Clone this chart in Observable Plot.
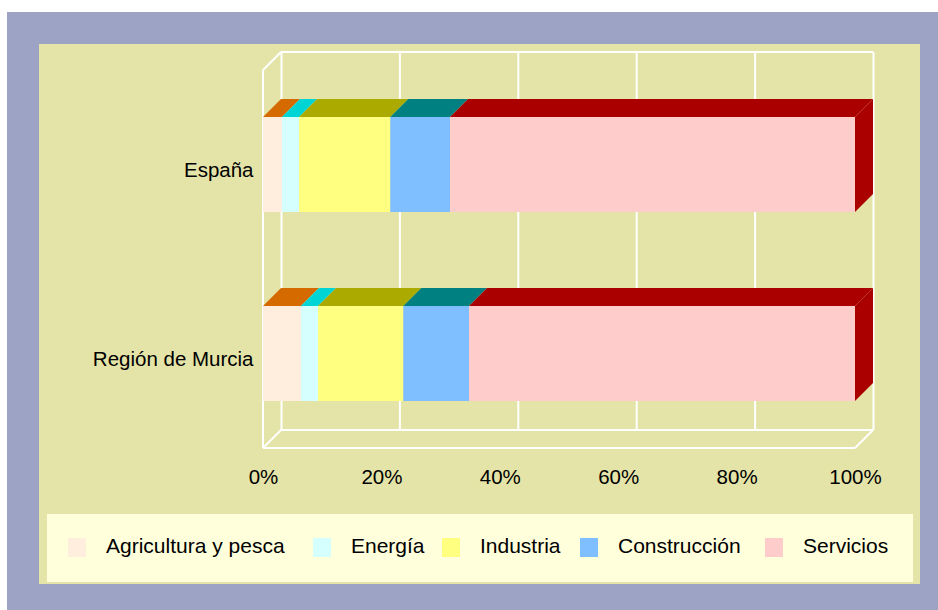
<!DOCTYPE html>
<html><head><meta charset="utf-8">
<script src="https://cdn.jsdelivr.net/npm/d3@7"></script>
<script src="https://cdn.jsdelivr.net/npm/@observablehq/plot@0.6"></script>
<style>
body{margin:0;background:#fff;}
#wrap{position:relative;width:938px;height:610px;overflow:hidden;font-family:"Liberation Sans",Arial,sans-serif;}
#outer{position:absolute;left:7px;top:12px;width:940px;height:600px;background:#9CA3C4;}
#inner{position:absolute;left:39px;top:44px;width:881px;height:540px;background:#E4E4A8;}
#chart{position:absolute;left:0;top:0;}
#legend{position:absolute;left:47px;top:514px;width:866px;height:68px;background:#FFFFDC;}
.sw{position:absolute;top:24px;width:18px;height:19px;}
.lb{position:absolute;top:20px;font-size:21px;line-height:24px;color:#000;white-space:nowrap;}
</style>
</head><body>
<div id="wrap"><div id="outer"></div><div id="inner"></div><div id="chart"></div><div id="legend"></div></div>
<script>
// ---- data ----
const regions = ["España", "Región de Murcia"];
const sectors = ["Agricultura y pesca", "Energía", "Industria", "Construcción", "Servicios"];
const espana = [3.2, 2.9, 15.4, 10.1, 68.4];
const murcia = [6.4, 2.9, 14.4, 11.1, 65.2];
const xTicks = [0, 20, 40, 60, 80, 100];
// ---- styles ----
const frontColors = ["#FFEEDD", "#D5FFFF", "#FFFF80", "#80BFFF", "#FFCCCC"];
const topColors = ["#D46A00", "#00D4D4", "#AAAA00", "#008080", "#AA0000"];
const legendSwatchX = [21, 266, 395, 533, 718];
const legendTextX = [59, 304, 433, 571, 756];
const D = 18;

const seriesByRegion = [espana, murcia];
const rows = [];
regions.forEach((region, ri) => {
  let acc = 0;
  seriesByRegion[ri].forEach((v, si) => {
    rows.push({region, sector: sectors[si], x1: acc, x2: acc + v, top: topColors[si], last: si === sectors.length - 1});
    acc += v;
  });
});

function walls(index, scales, values, dim) {
  const xa = scales.x(xTicks[0]), xb = scales.x(xTicks[xTicks.length - 1]);
  const yT = dim.marginTop, yB = dim.height - dim.marginBottom;
  const segs = [
    [xa, yT, xa, yB],
    [xa, yB, xb, yB],
    [xa, yT, xa + D, yT - D],
    [xa, yB, xa + D, yB - D],
    [xb, yB, xb + D, yB - D],
    [xa + D, yT - D, xb + D, yT - D],
    [xa + D, yB - D, xb + D, yB - D]
  ];
  const g = d3.create("svg:g").attr("stroke", "white").attr("stroke-width", 2).attr("fill", "none");
  for (const [a, b, c, d] of segs) g.append("line").attr("x1", a).attr("y1", b).attr("x2", c).attr("y2", d);
  return g.node();
}

function faces(index, scales) {
  const g = d3.create("svg:g");
  const bw = scales.y.bandwidth();
  for (const r of rows) {
    const yt = scales.y(r.region), xa = scales.x(r.x1), xb = scales.x(r.x2);
    g.append("path").attr("d", `M${xa},${yt}L${xb},${yt}L${xb + D},${yt - D}L${xa + D},${yt - D}Z`).attr("fill", r.top);
    if (r.last) {
      g.append("path").attr("d", `M${xb},${yt}L${xb + D},${yt - D}L${xb + D},${yt + bw - D}L${xb},${yt + bw}Z`).attr("fill", r.top);
    }
  }
  return g.node();
}

const chart = Plot.plot({
  width: 938, height: 500,
  marginLeft: 263, marginRight: 83, marginTop: 70, marginBottom: 52,
  style: {background: "transparent", fontFamily: "'Liberation Sans', Arial, sans-serif", fontSize: "20.5px", color: "#000", overflow: "visible"},
  x: {domain: [xTicks[0], xTicks[xTicks.length - 1]], axis: null},
  y: {domain: regions, paddingInner: 0.5, paddingOuter: 0.25, align: 0.5, axis: null},
  color: {domain: sectors, range: frontColors},
  marks: [
    Plot.ruleX(xTicks, {x: d => d, dx: D, dy: -D, stroke: "white", strokeWidth: 2}),
    walls,
    Plot.barX(rows, {x1: "x1", x2: "x2", y: "region", fill: "sector"}),
    faces,
    Plot.text(regions, {y: d => d, text: d => d, frameAnchor: "left", textAnchor: "end", dx: -10, dy: 5, fill: "#000", fontSize: 20.5}),
    Plot.text(xTicks, {x: d => d, text: d => d + "%", frameAnchor: "bottom", dy: 35, fill: "#000", fontSize: 20.5})
  ]
});
document.getElementById("chart").appendChild(chart);

const legend = document.getElementById("legend");
sectors.forEach((s, i) => {
  const sw = document.createElement("div");
  sw.className = "sw"; sw.style.left = legendSwatchX[i] + "px"; sw.style.background = frontColors[i];
  const lb = document.createElement("div");
  lb.className = "lb"; lb.style.left = legendTextX[i] + "px"; lb.textContent = s;
  legend.appendChild(sw); legend.appendChild(lb);
});
</script>
</body></html>
